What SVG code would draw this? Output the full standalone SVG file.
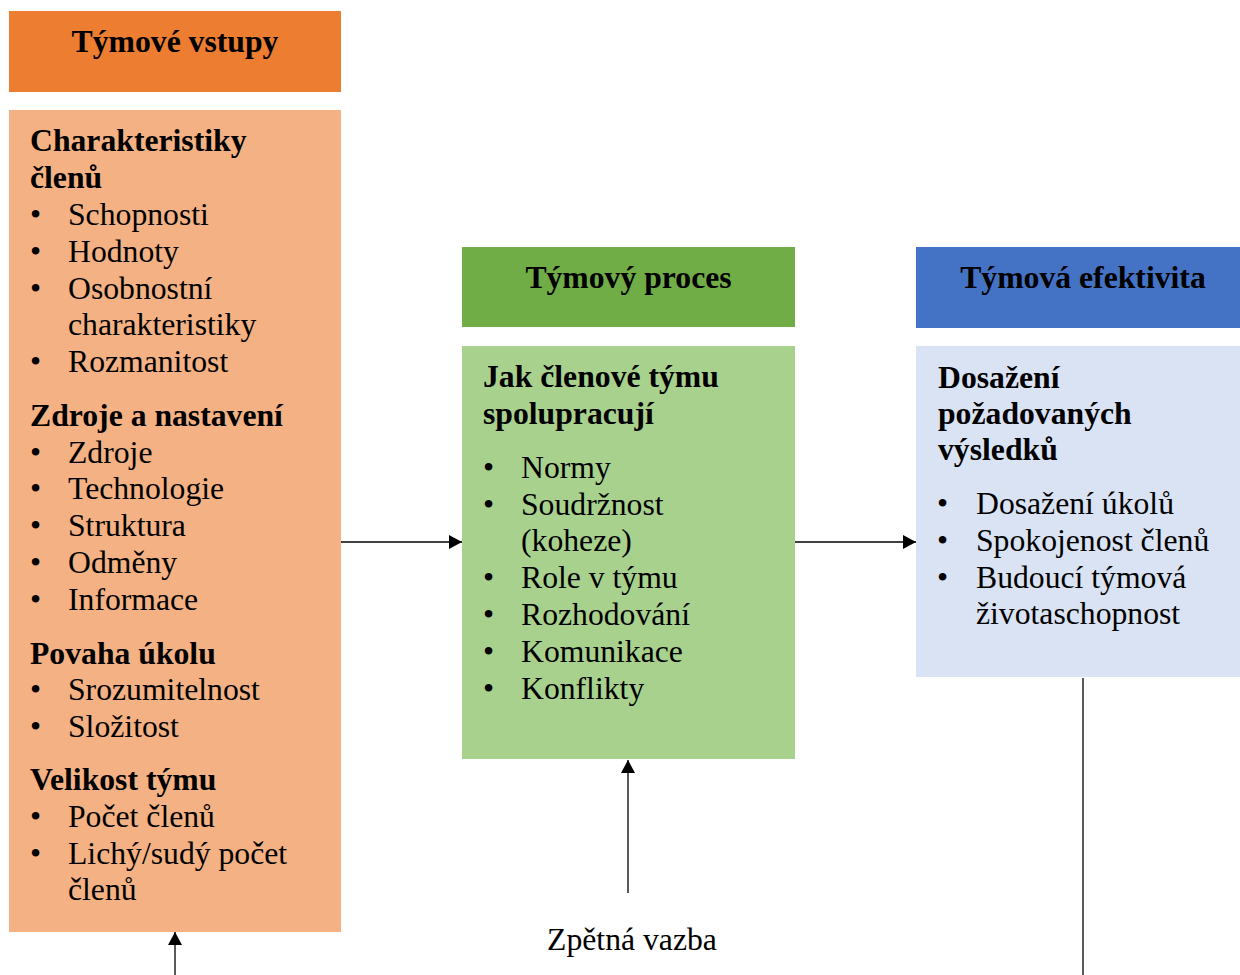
<svg xmlns="http://www.w3.org/2000/svg" width="1240" height="975" viewBox="0 0 1240 975">
<defs>
<marker id="arr" viewBox="0 0 13 14" refX="13" refY="7" markerWidth="13" markerHeight="14" markerUnits="userSpaceOnUse" orient="auto">
<path d="M0,0 L13,7 L0,14 Z" fill="#000"/>
</marker>
</defs>
<style>
text{font-family:"Liberation Serif","Times New Roman",serif;font-size:31.7px;fill:#000}
.b{font-weight:bold}
.c{text-anchor:middle}
.ln{stroke:#000;stroke-width:1.3;fill:none}
</style>
<rect width="1240" height="975" fill="#fff"/>
<g id="inputs-header">
<rect x="9" y="11" width="332" height="81" fill="#ED7D31"/>
<text class="b c" x="175" y="52">Týmové vstupy</text>
</g>
<g id="inputs">
<rect x="9" y="110" width="332" height="822" fill="#F4B183"/>
<text class="b" x="30" y="151">Charakteristiky</text>
<text class="b" x="30" y="188">členů</text>
<text x="30" y="225">•</text><text x="68" y="225">Schopnosti</text>
<text x="30" y="262">•</text><text x="68" y="262">Hodnoty</text>
<text x="30" y="299">•</text><text x="68" y="299">Osobnostní</text>
<text x="68" y="335">charakteristiky</text>
<text x="30" y="372">•</text><text x="68" y="372">Rozmanitost</text>
<text class="b" x="30" y="426">Zdroje a nastavení</text>
<text x="30" y="463">•</text><text x="68" y="463">Zdroje</text>
<text x="30" y="499">•</text><text x="68" y="499">Technologie</text>
<text x="30" y="536">•</text><text x="68" y="536">Struktura</text>
<text x="30" y="573">•</text><text x="68" y="573">Odměny</text>
<text x="30" y="610">•</text><text x="68" y="610">Informace</text>
<text class="b" x="30" y="664">Povaha úkolu</text>
<text x="30" y="700">•</text><text x="68" y="700">Srozumitelnost</text>
<text x="30" y="737">•</text><text x="68" y="737">Složitost</text>
<text class="b" x="30" y="790">Velikost týmu</text>
<text x="30" y="827">•</text><text x="68" y="827">Počet členů</text>
<text x="30" y="864">•</text><text x="68" y="864">Lichý/sudý počet</text>
<text x="68" y="900">členů</text>
</g>
<g id="process-header">
<rect x="462" y="247" width="333" height="80" fill="#70AD47"/>
<text class="b c" x="628.5" y="288">Týmový proces</text>
</g>
<g id="process">
<rect x="462" y="346" width="333" height="413" fill="#A9D18E"/>
<text class="b" x="483" y="387">Jak členové týmu</text>
<text class="b" x="483" y="424">spolupracují</text>
<text x="483" y="478">•</text><text x="521" y="478">Normy</text>
<text x="483" y="515">•</text><text x="521" y="515">Soudržnost</text>
<text x="521" y="551">(koheze)</text>
<text x="483" y="588">•</text><text x="521" y="588">Role v týmu</text>
<text x="483" y="625">•</text><text x="521" y="625">Rozhodování</text>
<text x="483" y="662">•</text><text x="521" y="662">Komunikace</text>
<text x="483" y="699">•</text><text x="521" y="699">Konflikty</text>
</g>
<g id="effectiveness-header">
<rect x="916" y="247" width="324" height="81" fill="#4472C4"/>
<text class="b c" x="1083" y="288">Týmová efektivita</text>
</g>
<g id="effectiveness">
<rect x="916" y="346" width="324" height="331" fill="#DAE3F3"/>
<text class="b" x="938" y="388">Dosažení</text>
<text class="b" x="938" y="424">požadovaných</text>
<text class="b" x="938" y="460">výsledků</text>
<text x="937" y="514">•</text><text x="976" y="514">Dosažení úkolů</text>
<text x="937" y="551">•</text><text x="976" y="551">Spokojenost členů</text>
<text x="937" y="588">•</text><text x="976" y="588">Budoucí týmová</text>
<text x="976" y="624">životaschopnost</text>
</g>
<g id="feedback-label">
<text class="c" x="632" y="950">Zpětná vazba</text>
</g>
<g id="connectors">
<line class="ln" x1="341" y1="542" x2="462" y2="542" marker-end="url(#arr)"/>
<line class="ln" x1="795" y1="542" x2="916" y2="542" marker-end="url(#arr)"/>
<line class="ln" x1="628" y1="893" x2="628" y2="760" marker-end="url(#arr)"/>
<line class="ln" x1="175" y1="975" x2="175" y2="932" marker-end="url(#arr)"/>
<line class="ln" x1="1083" y1="678" x2="1083" y2="975" stroke="#333"/>
</g>
</svg>
